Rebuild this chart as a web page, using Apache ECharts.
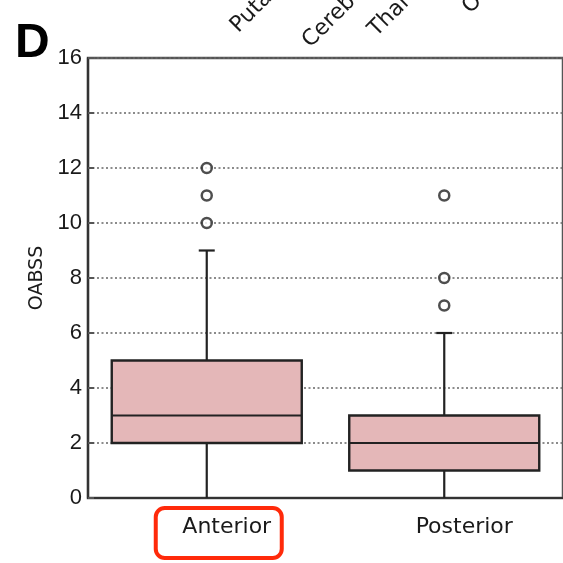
<!DOCTYPE html>
<html>
<head>
<meta charset="utf-8">
<script src="https://cdn.jsdelivr.net/npm/echarts@6/dist/echarts.min.js"></script>
<style>
html,body{margin:0;padding:0;background:#fff;}
#chart{width:563px;height:563px;}
</style>
</head>
<body>
<div id="chart"></div>
<script>
// ---- data ----
const categories = ['Anterior', 'Posterior'];
// [min, Q1, median, Q3, max]
const anteriorStats = [0, 2, 3, 5, 9];
const posteriorStats = [0, 1, 2, 3, 6];
const anteriorOutliers = [10, 11, 12];
const posteriorOutliers = [7, 8, 11];
const yTickValues = [0, 2, 4, 6, 8, 10, 12, 14, 16];
const yAxisName = 'OABSS';
const panelLetter = 'D';
const topFragments = ['Puta', 'Cereb', 'Thal', 'O'];

const boxData = [
  [0].concat(anteriorStats),
  [1].concat(posteriorStats)
];
const outlierData = anteriorOutliers.map(v => [0, v]).concat(posteriorOutliers.map(v => [1, v]));

const chart = echarts.init(document.getElementById('chart'), null, {renderer: 'canvas'});

function renderBox(params, api) {
  const xi = api.value(0);
  const mn = api.coord([xi, api.value(1)]);
  const q1 = api.coord([xi, api.value(2)]);
  const md = api.coord([xi, api.value(3)]);
  const q3 = api.coord([xi, api.value(4)]);
  const mx = api.coord([xi, api.value(5)]);
  const band = api.size([1, 0])[0];
  const w = band * 0.8;
  const cx = mn[0];
  const cap = 8;
  const lineStyle = {stroke: '#222', lineWidth: 2.2, fill: null};
  return {
    type: 'group',
    children: [
      {type: 'line', shape: {x1: cx, y1: q1[1], x2: cx, y2: mn[1]}, style: lineStyle},
      {type: 'line', shape: {x1: cx, y1: q3[1], x2: cx, y2: mx[1]}, style: lineStyle},
      {type: 'line', shape: {x1: cx - cap, y1: mx[1], x2: cx + cap, y2: mx[1]}, style: lineStyle},
      {type: 'rect', shape: {x: cx - w / 2, y: q3[1], width: w, height: q1[1] - q3[1]},
        style: {fill: '#e4b7b8', stroke: '#222', lineWidth: 2.4}},
      {type: 'line', shape: {x1: cx - w / 2, y1: md[1], x2: cx + w / 2, y2: md[1]}, style: lineStyle}
    ]
  };
}

const option = {
  backgroundColor: '#fff',
  animation: false,
  grid: {
    left: 88, right: -5, top: 58, bottom: 65,
    show: true, borderColor: '#555', borderWidth: 2.5, backgroundColor: 'transparent'
  },
  xAxis: {
    type: 'category',
    data: categories,
    axisLine: {show: true, lineStyle: {color: '#333', width: 2}},
    axisTick: {show: false},
    splitLine: {show: false},
    axisLabel: {
      fontFamily: 'DejaVu Sans', fontSize: 22, color: '#1a1a1a', margin: 18,
      padding: [0, 0, 0, 40]
    }
  },
  yAxis: {
    type: 'value',
    min: yTickValues[0], max: yTickValues[yTickValues.length - 1], interval: 2,
    name: yAxisName,
    nameLocation: 'middle',
    nameGap: 37,
    nameRotate: 90,
    nameTextStyle: {fontFamily: 'DejaVu Sans', fontSize: 19, color: '#1a1a1a'},
    axisLine: {show: true, lineStyle: {color: '#333', width: 2.2}},
    axisTick: {show: true, inside: true, length: 6, lineStyle: {color: '#555', width: 2}},
    axisLabel: {fontFamily: 'Liberation Sans', fontSize: 22, color: '#1a1a1a', margin: 6},
    splitLine: {show: true, lineStyle: {color: '#666', width: 1.6, type: [2, 2.5]}}
  },
  series: [
    {
      type: 'custom',
      renderItem: renderBox,
      data: boxData,
      encode: {x: 0, y: [1, 2, 3, 4, 5]},
      z: 3
    },
    {
      type: 'scatter',
      data: outlierData,
      symbol: 'circle',
      symbolSize: 10,
      itemStyle: {color: '#fff', borderColor: '#222', borderWidth: 2.5},
      z: 4
    }
  ]
};
chart.setOption(option);

// annotation elements placed relative to the axes
const ant = chart.convertToPixel({xAxisIndex: 0}, categories[0]);
const y0 = chart.convertToPixel({yAxisIndex: 0}, 0);
const fragPos = [[242, 37], [314, 52], [380, 41], [474, 18]];
chart.setOption({
  graphic: [
    {
      type: 'rect',
      shape: {x: ant - 51, y: y0 + 10, width: 126, height: 50, r: 9},
      style: {fill: null, stroke: '#ff2a0a', lineWidth: 4},
      z: 10
    },
    {
      type: 'text', left: 15, top: 20,
      style: {text: panelLetter, font: 'bold 48px "Liberation Sans"', fill: '#000'}
    }
  ].concat(topFragments.map((t, i) => ({
    type: 'text',
    x: fragPos[i][0], y: fragPos[i][1],
    rotation: Math.PI / 4,
    style: {text: t, font: '22px "DejaVu Sans"', fill: '#1a1a1a', textAlign: 'left', textVerticalAlign: 'bottom'}
  })))
});
</script>
</body>
</html>
